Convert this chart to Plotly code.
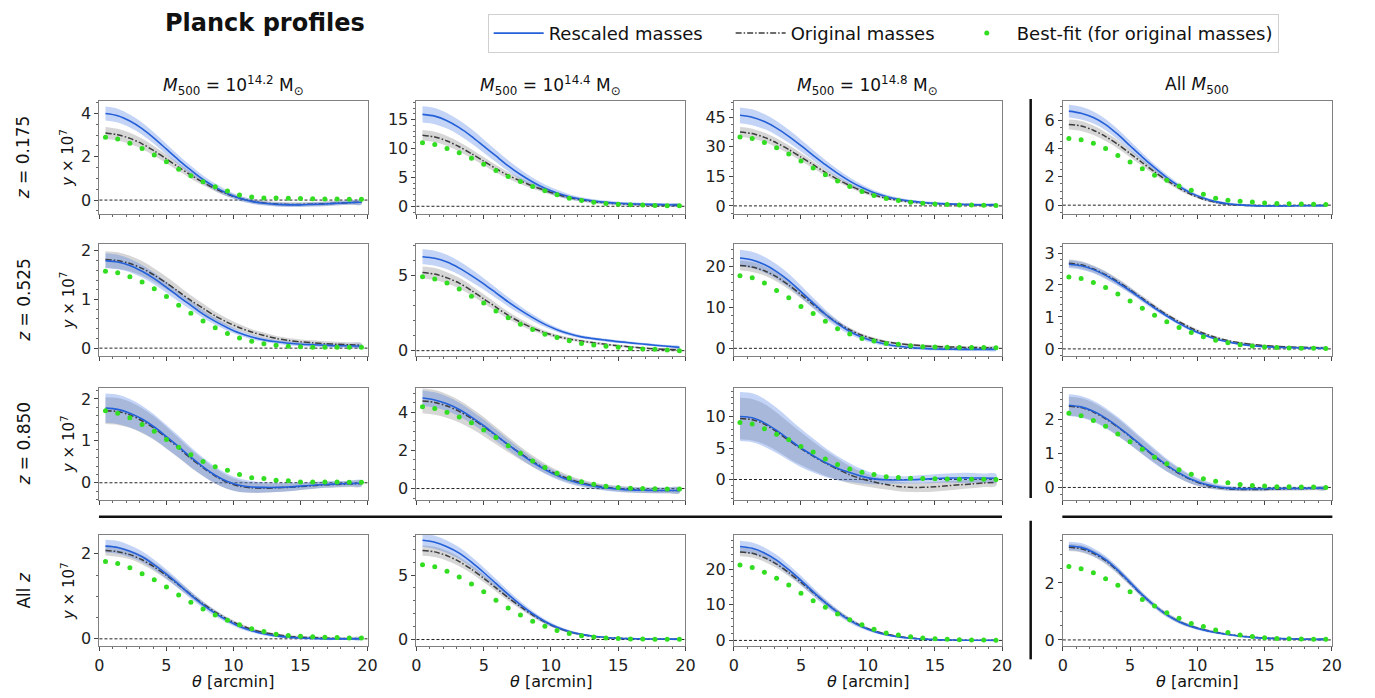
import plotly.graph_objects as go
from plotly.subplots import make_subplots

# ---------------- data ----------------
theta = [0.45, 1.36, 2.27, 3.18, 4.09, 5.0, 5.91, 6.82, 7.73, 8.64, 9.55,
         10.45, 11.36, 12.27, 13.18, 14.09, 15.0, 15.91, 16.82, 17.73, 18.64, 19.55]

col_titles = ["<i>M</i><sub>500</sub> = 10<sup>14.2</sup> M<sub>⊙</sub>",
              "<i>M</i><sub>500</sub> = 10<sup>14.4</sup> M<sub>⊙</sub>",
              "<i>M</i><sub>500</sub> = 10<sup>14.8</sup> M<sub>⊙</sub>",
              "All <i>M</i><sub>500</sub>"]
row_titles = ["<i>z</i> = 0.175", "<i>z</i> = 0.525", "<i>z</i> = 0.850", "All <i>z</i>"]
legend_names = ["Rescaled masses", "Original masses", "Best-fit (for original masses)"]
x_ticks = [0, 5, 10, 15, 20]

# row 1 (z = 0.175)
blue_r1c1 = [4.0, 3.9, 3.65, 3.3, 2.85, 2.35, 1.85, 1.38, 0.95, 0.6, 0.3, 0.08, -0.06, -0.15, -0.2, -0.22, -0.22, -0.2, -0.18, -0.15, -0.12, -0.1]
blue_err_r1c1 = [0.32, 0.32, 0.3, 0.28, 0.26, 0.24, 0.22, 0.2, 0.18, 0.16, 0.14, 0.12, 0.11, 0.1, 0.1, 0.1, 0.1, 0.1, 0.1, 0.1, 0.1, 0.1]
gray_r1c1 = [3.1, 3.02, 2.85, 2.6, 2.27, 1.9, 1.52, 1.15, 0.82, 0.52, 0.27, 0.08, -0.05, -0.13, -0.18, -0.2, -0.2, -0.19, -0.17, -0.14, -0.12, -0.1]
gray_err_r1c1 = [0.28, 0.27, 0.26, 0.24, 0.22, 0.2, 0.18, 0.16, 0.14, 0.12, 0.11, 0.1, 0.1, 0.1, 0.1, 0.1, 0.1, 0.1, 0.1, 0.1, 0.1, 0.1]
fit_r1c1 = [2.9, 2.82, 2.62, 2.38, 2.08, 1.77, 1.42, 1.12, 0.85, 0.62, 0.42, 0.24, 0.14, 0.1, 0.09, 0.08, 0.07, 0.06, 0.05, 0.05, 0.04, 0.04]

blue_r1c2 = [15.9, 15.6, 14.8, 13.6, 12.1, 10.4, 8.7, 7.0, 5.5, 4.2, 3.1, 2.3, 1.65, 1.2, 0.9, 0.68, 0.52, 0.42, 0.35, 0.3, 0.26, 0.22]
blue_err_r1c2 = [1.4, 1.4, 1.35, 1.3, 1.25, 1.15, 1.05, 0.95, 0.85, 0.75, 0.65, 0.55, 0.45, 0.38, 0.33, 0.3, 0.28, 0.26, 0.25, 0.25, 0.25, 0.25]
gray_r1c2 = [12.3, 12.0, 11.3, 10.3, 9.1, 7.8, 6.5, 5.35, 4.4, 3.5, 2.75, 2.05, 1.5, 1.1, 0.8, 0.58, 0.43, 0.33, 0.27, 0.22, 0.19, 0.17]
gray_err_r1c2 = [0.9, 0.9, 0.87, 0.83, 0.78, 0.72, 0.66, 0.6, 0.54, 0.48, 0.42, 0.37, 0.33, 0.3, 0.28, 0.26, 0.25, 0.25, 0.25, 0.25, 0.25, 0.25]
fit_r1c2 = [11.0, 10.7, 10.0, 9.26, 8.3, 7.26, 6.17, 5.14, 4.3, 3.4, 2.7, 2.0, 1.4, 1.0, 0.7, 0.5, 0.35, 0.25, 0.2, 0.15, 0.1, 0.1]

blue_r1c3 = [46.0, 45.0, 42.8, 39.5, 35.3, 30.6, 25.7, 20.9, 16.5, 12.6, 9.3, 6.7, 4.8, 3.4, 2.4, 1.75, 1.3, 1.0, 0.8, 0.65, 0.55, 0.5]
blue_err_r1c3 = [4.0, 4.0, 3.8, 3.6, 3.3, 3.0, 2.7, 2.4, 2.1, 1.8, 1.5, 1.2, 1.0, 0.85, 0.75, 0.7, 0.65, 0.6, 0.6, 0.6, 0.6, 0.6]
gray_r1c3 = [37.5, 36.7, 34.8, 32.0, 28.6, 24.8, 20.9, 17.0, 13.5, 10.3, 7.6, 5.5, 3.9, 2.8, 2.0, 1.45, 1.1, 0.85, 0.7, 0.6, 0.5, 0.45]
gray_err_r1c3 = [2.5, 2.5, 2.4, 2.3, 2.15, 2.0, 1.8, 1.6, 1.4, 1.2, 1.0, 0.85, 0.75, 0.65, 0.6, 0.55, 0.5, 0.5, 0.5, 0.5, 0.5, 0.5]
fit_r1c3 = [35.0, 34.2, 32.2, 29.5, 26.3, 22.8, 19.2, 15.8, 12.6, 9.8, 7.3, 5.3, 3.8, 2.7, 1.9, 1.3, 0.9, 0.65, 0.5, 0.4, 0.3, 0.25]

blue_r1c4 = [6.65, 6.5, 6.2, 5.7, 5.0, 4.2, 3.4, 2.65, 1.95, 1.35, 0.85, 0.5, 0.25, 0.1, 0.02, -0.03, -0.05, -0.05, -0.05, -0.04, -0.03, -0.03]
blue_err_r1c4 = [0.45, 0.45, 0.43, 0.4, 0.37, 0.33, 0.29, 0.25, 0.21, 0.17, 0.14, 0.11, 0.09, 0.08, 0.07, 0.06, 0.06, 0.06, 0.06, 0.06, 0.06, 0.06]
gray_r1c4 = [5.7, 5.6, 5.3, 4.85, 4.3, 3.65, 3.0, 2.35, 1.75, 1.2, 0.75, 0.42, 0.2, 0.07, 0.0, -0.03, -0.04, -0.04, -0.04, -0.03, -0.03, -0.02]
gray_err_r1c4 = [0.35, 0.35, 0.33, 0.31, 0.29, 0.26, 0.23, 0.2, 0.17, 0.14, 0.11, 0.09, 0.08, 0.07, 0.06, 0.06, 0.06, 0.06, 0.06, 0.06, 0.06, 0.06]
fit_r1c4 = [4.72, 4.62, 4.37, 4.01, 3.52, 3.05, 2.58, 2.11, 1.76, 1.36, 1.06, 0.77, 0.49, 0.35, 0.28, 0.22, 0.16, 0.12, 0.1, 0.08, 0.06, 0.04]

# row 2 (z = 0.525)
blue_r2c1 = [1.8, 1.77, 1.7, 1.58, 1.43, 1.25, 1.06, 0.88, 0.7, 0.55, 0.42, 0.31, 0.23, 0.17, 0.13, 0.1, 0.08, 0.07, 0.06, 0.05, 0.05, 0.04]
blue_err_r2c1 = [0.15, 0.15, 0.14, 0.13, 0.12, 0.11, 0.1, 0.09, 0.08, 0.07, 0.06, 0.05, 0.05, 0.04, 0.04, 0.04, 0.04, 0.04, 0.04, 0.04, 0.04, 0.04]
gray_r2c1 = [1.82, 1.8, 1.74, 1.64, 1.5, 1.34, 1.16, 0.98, 0.82, 0.66, 0.53, 0.42, 0.33, 0.26, 0.2, 0.16, 0.13, 0.11, 0.09, 0.08, 0.07, 0.06]
gray_err_r2c1 = [0.17, 0.17, 0.16, 0.15, 0.14, 0.13, 0.12, 0.11, 0.1, 0.09, 0.08, 0.07, 0.06, 0.06, 0.05, 0.05, 0.05, 0.05, 0.05, 0.05, 0.05, 0.05]
fit_r2c1 = [1.58, 1.55, 1.47, 1.36, 1.22, 1.06, 0.88, 0.72, 0.56, 0.42, 0.3, 0.21, 0.14, 0.09, 0.06, 0.04, 0.03, 0.02, 0.02, 0.02, 0.02, 0.02]

blue_r2c2 = [6.25, 6.15, 5.9, 5.5, 5.0, 4.45, 3.85, 3.25, 2.7, 2.2, 1.75, 1.4, 1.12, 0.92, 0.8, 0.7, 0.6, 0.52, 0.44, 0.36, 0.29, 0.22]
blue_err_r2c2 = [0.5, 0.5, 0.48, 0.45, 0.42, 0.38, 0.34, 0.3, 0.26, 0.22, 0.18, 0.15, 0.13, 0.11, 0.1, 0.1, 0.09, 0.09, 0.08, 0.08, 0.08, 0.08]
gray_r2c2 = [5.2, 5.1, 4.85, 4.5, 4.0, 3.45, 2.9, 2.35, 1.9, 1.5, 1.2, 0.95, 0.78, 0.64, 0.52, 0.42, 0.33, 0.25, 0.18, 0.12, 0.08, 0.05]
gray_err_r2c2 = [0.4, 0.4, 0.38, 0.36, 0.33, 0.3, 0.27, 0.24, 0.21, 0.18, 0.15, 0.13, 0.11, 0.1, 0.09, 0.08, 0.08, 0.07, 0.07, 0.07, 0.07, 0.07]
fit_r2c2 = [4.93, 4.78, 4.5, 4.1, 3.63, 3.17, 2.64, 2.2, 1.76, 1.41, 1.1, 0.88, 0.66, 0.48, 0.37, 0.3, 0.22, 0.15, 0.11, 0.09, 0.04, 0.0]

blue_r2c3 = [22.0, 21.5, 20.4, 18.7, 16.5, 13.8, 11.0, 8.3, 6.0, 4.1, 2.7, 1.7, 1.0, 0.5, 0.2, 0.0, -0.15, -0.2, -0.25, -0.25, -0.25, -0.25]
blue_err_r2c3 = [2.0, 2.0, 1.9, 1.8, 1.65, 1.5, 1.3, 1.1, 0.9, 0.75, 0.6, 0.5, 0.45, 0.4, 0.4, 0.4, 0.4, 0.4, 0.4, 0.4, 0.4, 0.4]
gray_r2c3 = [20.2, 19.8, 18.9, 17.4, 15.4, 13.1, 10.7, 8.3, 6.2, 4.5, 3.2, 2.25, 1.6, 1.15, 0.85, 0.62, 0.46, 0.35, 0.26, 0.2, 0.15, 0.1]
gray_err_r2c3 = [1.2, 1.2, 1.15, 1.1, 1.0, 0.9, 0.8, 0.7, 0.6, 0.5, 0.42, 0.36, 0.32, 0.3, 0.3, 0.3, 0.3, 0.3, 0.3, 0.3, 0.3, 0.3]
fit_r2c3 = [17.7, 17.2, 15.9, 14.1, 12.3, 10.2, 8.5, 6.6, 4.8, 3.5, 2.4, 1.8, 1.2, 0.97, 0.65, 0.4, 0.3, 0.25, 0.22, 0.2, 0.18, 0.16]

blue_r2c4 = [2.65, 2.6, 2.48, 2.3, 2.07, 1.82, 1.55, 1.28, 1.03, 0.8, 0.6, 0.44, 0.31, 0.22, 0.15, 0.1, 0.07, 0.05, 0.04, 0.03, 0.02, 0.02]
blue_err_r2c4 = [0.12, 0.12, 0.11, 0.11, 0.1, 0.09, 0.08, 0.07, 0.06, 0.05, 0.05, 0.04, 0.04, 0.03, 0.03, 0.03, 0.03, 0.03, 0.03, 0.03, 0.03, 0.03]
gray_r2c4 = [2.68, 2.63, 2.5, 2.32, 2.1, 1.85, 1.58, 1.32, 1.07, 0.85, 0.65, 0.49, 0.36, 0.26, 0.19, 0.14, 0.1, 0.08, 0.06, 0.05, 0.04, 0.03]
gray_err_r2c4 = [0.12, 0.12, 0.11, 0.11, 0.1, 0.09, 0.08, 0.07, 0.06, 0.05, 0.05, 0.04, 0.04, 0.03, 0.03, 0.03, 0.03, 0.03, 0.03, 0.03, 0.03, 0.03]
fit_r2c4 = [2.25, 2.2, 2.08, 1.92, 1.72, 1.5, 1.27, 1.05, 0.85, 0.67, 0.51, 0.38, 0.27, 0.19, 0.13, 0.09, 0.06, 0.04, 0.03, 0.02, 0.02, 0.01]

# row 3 (z = 0.850)
blue_r3c1 = [1.78, 1.75, 1.66, 1.52, 1.33, 1.1, 0.86, 0.61, 0.38, 0.18, 0.03, -0.06, -0.1, -0.11, -0.11, -0.1, -0.08, -0.06, -0.04, -0.03, -0.02, -0.01]
blue_err_r3c1 = [0.35, 0.35, 0.34, 0.32, 0.3, 0.28, 0.26, 0.24, 0.22, 0.2, 0.18, 0.16, 0.14, 0.12, 0.11, 0.1, 0.09, 0.08, 0.08, 0.07, 0.07, 0.07]
gray_r3c1 = [1.72, 1.7, 1.62, 1.48, 1.3, 1.07, 0.83, 0.58, 0.36, 0.16, 0.01, -0.08, -0.12, -0.13, -0.12, -0.11, -0.09, -0.07, -0.05, -0.04, -0.03, -0.02]
gray_err_r3c1 = [0.32, 0.32, 0.31, 0.3, 0.28, 0.26, 0.24, 0.22, 0.2, 0.18, 0.16, 0.14, 0.12, 0.11, 0.1, 0.09, 0.08, 0.08, 0.07, 0.07, 0.07, 0.07]
fit_r3c1 = [1.72, 1.66, 1.55, 1.39, 1.23, 1.03, 0.85, 0.67, 0.51, 0.38, 0.3, 0.2, 0.12, 0.1, 0.06, 0.05, 0.02, 0.02, 0.02, 0.02, 0.01, 0.01]

blue_r3c2 = [4.75, 4.65, 4.45, 4.15, 3.75, 3.3, 2.8, 2.3, 1.82, 1.38, 1.0, 0.68, 0.43, 0.25, 0.12, 0.03, -0.03, -0.07, -0.09, -0.1, -0.1, -0.1]
blue_err_r3c2 = [0.4, 0.4, 0.38, 0.36, 0.34, 0.32, 0.3, 0.28, 0.26, 0.24, 0.22, 0.2, 0.18, 0.16, 0.15, 0.15, 0.15, 0.15, 0.15, 0.15, 0.15, 0.15]
gray_r3c2 = [4.6, 4.52, 4.33, 4.05, 3.68, 3.25, 2.78, 2.3, 1.85, 1.43, 1.06, 0.75, 0.5, 0.3, 0.16, 0.06, -0.01, -0.05, -0.08, -0.1, -0.1, -0.1]
gray_err_r3c2 = [0.65, 0.65, 0.62, 0.58, 0.54, 0.5, 0.45, 0.4, 0.35, 0.3, 0.26, 0.22, 0.19, 0.17, 0.16, 0.15, 0.15, 0.15, 0.15, 0.15, 0.15, 0.15]
fit_r3c2 = [4.3, 4.2, 4.0, 3.75, 3.45, 3.08, 2.68, 2.25, 1.85, 1.45, 1.1, 0.8, 0.55, 0.36, 0.22, 0.12, 0.06, 0.02, 0.0, -0.01, -0.02, -0.02]

blue_r3c3 = [10.0, 9.8, 9.0, 7.8, 6.4, 5.0, 3.8, 2.7, 1.8, 1.1, 0.5, 0.1, -0.05, -0.08, -0.05, 0.05, 0.15, 0.22, 0.25, 0.25, 0.22, 0.2]
blue_err_r3c3 = [3.9, 3.9, 3.8, 3.6, 3.35, 3.05, 2.7, 2.3, 1.9, 1.5, 1.15, 0.85, 0.65, 0.6, 0.6, 0.65, 0.7, 0.75, 0.8, 0.8, 0.75, 0.7]
gray_r3c3 = [9.7, 9.5, 8.8, 7.6, 6.2, 4.9, 3.7, 2.6, 1.65, 0.75, 0.1, -0.4, -0.8, -1.1, -1.25, -1.25, -1.15, -1.0, -0.85, -0.7, -0.55, -0.45]
gray_err_r3c3 = [3.3, 3.3, 3.2, 3.05, 2.85, 2.6, 2.3, 2.0, 1.7, 1.4, 1.1, 0.9, 0.8, 0.75, 0.75, 0.75, 0.75, 0.75, 0.7, 0.7, 0.65, 0.6]
fit_r3c3 = [9.05, 8.8, 8.05, 7.2, 6.3, 5.26, 4.37, 3.26, 2.37, 1.68, 1.16, 0.79, 0.45, 0.3, 0.2, 0.15, 0.1, 0.08, 0.06, 0.05, 0.04, 0.02]

blue_r3c4 = [2.43, 2.38, 2.25, 2.05, 1.8, 1.52, 1.22, 0.93, 0.66, 0.43, 0.24, 0.11, 0.03, -0.02, -0.04, -0.04, -0.04, -0.03, -0.03, -0.03, -0.02, -0.02]
blue_err_r3c4 = [0.32, 0.32, 0.31, 0.3, 0.28, 0.26, 0.24, 0.22, 0.19, 0.16, 0.13, 0.1, 0.08, 0.07, 0.06, 0.06, 0.05, 0.05, 0.05, 0.05, 0.05, 0.05]
gray_r3c4 = [2.4, 2.36, 2.23, 2.03, 1.78, 1.5, 1.2, 0.91, 0.64, 0.41, 0.22, 0.09, 0.01, -0.04, -0.06, -0.06, -0.06, -0.05, -0.04, -0.04, -0.03, -0.03]
gray_err_r3c4 = [0.28, 0.28, 0.27, 0.26, 0.25, 0.23, 0.21, 0.19, 0.17, 0.14, 0.12, 0.09, 0.07, 0.06, 0.05, 0.05, 0.05, 0.05, 0.05, 0.05, 0.05, 0.05]
fit_r3c4 = [2.19, 2.12, 1.98, 1.81, 1.58, 1.35, 1.13, 0.89, 0.7, 0.52, 0.39, 0.26, 0.18, 0.14, 0.09, 0.06, 0.04, 0.02, 0.02, 0.01, 0.01, 0.0]

# row 4 (all z)
blue_r4c1 = [2.18, 2.15, 2.06, 1.93, 1.74, 1.52, 1.28, 1.03, 0.8, 0.6, 0.43, 0.29, 0.19, 0.12, 0.07, 0.04, 0.02, 0.01, 0.0, 0.0, 0.0, 0.0]
blue_err_r4c1 = [0.15, 0.15, 0.14, 0.13, 0.12, 0.11, 0.1, 0.09, 0.08, 0.07, 0.06, 0.05, 0.04, 0.04, 0.03, 0.03, 0.03, 0.03, 0.03, 0.03, 0.03, 0.03]
gray_r4c1 = [2.08, 2.05, 1.98, 1.86, 1.69, 1.49, 1.27, 1.04, 0.82, 0.63, 0.46, 0.33, 0.22, 0.15, 0.1, 0.06, 0.04, 0.03, 0.02, 0.01, 0.01, 0.01]
gray_err_r4c1 = [0.12, 0.12, 0.11, 0.11, 0.1, 0.09, 0.08, 0.07, 0.06, 0.05, 0.05, 0.04, 0.04, 0.03, 0.03, 0.03, 0.03, 0.03, 0.03, 0.03, 0.03, 0.03]
fit_r4c1 = [1.82, 1.77, 1.67, 1.53, 1.39, 1.22, 1.03, 0.86, 0.7, 0.56, 0.44, 0.33, 0.24, 0.17, 0.11, 0.08, 0.06, 0.05, 0.04, 0.03, 0.02, 0.02]

blue_r4c2 = [7.7, 7.55, 7.2, 6.7, 6.0, 5.2, 4.35, 3.5, 2.7, 2.0, 1.4, 0.95, 0.62, 0.4, 0.25, 0.16, 0.1, 0.07, 0.05, 0.04, 0.03, 0.03]
blue_err_r4c2 = [0.5, 0.5, 0.48, 0.45, 0.42, 0.38, 0.34, 0.3, 0.26, 0.22, 0.18, 0.14, 0.11, 0.09, 0.07, 0.06, 0.05, 0.05, 0.05, 0.05, 0.05, 0.05]
gray_r4c2 = [6.9, 6.8, 6.5, 6.05, 5.45, 4.75, 4.0, 3.25, 2.55, 1.9, 1.35, 0.92, 0.6, 0.38, 0.24, 0.15, 0.1, 0.07, 0.05, 0.04, 0.03, 0.03]
gray_err_r4c2 = [0.4, 0.4, 0.38, 0.36, 0.33, 0.3, 0.27, 0.24, 0.21, 0.18, 0.15, 0.12, 0.1, 0.08, 0.07, 0.06, 0.05, 0.05, 0.05, 0.05, 0.05, 0.05]
fit_r4c2 = [5.8, 5.65, 5.3, 4.85, 4.3, 3.7, 3.05, 2.45, 1.9, 1.42, 1.02, 0.7, 0.46, 0.3, 0.19, 0.12, 0.08, 0.05, 0.04, 0.03, 0.02, 0.02]

blue_r4c3 = [26.3, 25.8, 24.5, 22.5, 19.8, 16.8, 13.6, 10.6, 7.9, 5.6, 3.8, 2.5, 1.6, 1.0, 0.6, 0.35, 0.2, 0.12, 0.08, 0.05, 0.03, 0.02]
blue_err_r4c3 = [1.6, 1.6, 1.55, 1.5, 1.4, 1.3, 1.15, 1.0, 0.85, 0.7, 0.55, 0.45, 0.35, 0.28, 0.22, 0.18, 0.15, 0.12, 0.1, 0.1, 0.1, 0.1]
gray_r4c3 = [24.8, 24.4, 23.2, 21.4, 19.0, 16.3, 13.4, 10.6, 8.0, 5.8, 4.0, 2.7, 1.75, 1.1, 0.7, 0.42, 0.25, 0.15, 0.1, 0.07, 0.05, 0.03]
gray_err_r4c3 = [1.2, 1.2, 1.15, 1.1, 1.05, 0.95, 0.85, 0.75, 0.65, 0.55, 0.45, 0.35, 0.28, 0.22, 0.18, 0.15, 0.12, 0.1, 0.1, 0.1, 0.1, 0.1]
fit_r4c3 = [21.1, 20.4, 19.1, 17.4, 15.5, 13.2, 11.1, 9.3, 7.4, 5.8, 4.4, 3.1, 2.1, 1.5, 1.05, 0.7, 0.45, 0.3, 0.2, 0.15, 0.1, 0.05]

blue_r4c4 = [3.3, 3.25, 3.08, 2.82, 2.45, 2.02, 1.58, 1.2, 0.88, 0.64, 0.47, 0.35, 0.26, 0.19, 0.13, 0.09, 0.06, 0.05, 0.04, 0.03, 0.02, 0.02]
blue_err_r4c4 = [0.15, 0.15, 0.14, 0.13, 0.12, 0.11, 0.1, 0.09, 0.08, 0.07, 0.06, 0.05, 0.04, 0.04, 0.03, 0.03, 0.03, 0.03, 0.03, 0.03, 0.03, 0.03]
gray_r4c4 = [3.25, 3.2, 3.04, 2.78, 2.42, 2.0, 1.57, 1.2, 0.89, 0.65, 0.48, 0.36, 0.27, 0.2, 0.14, 0.1, 0.07, 0.05, 0.04, 0.03, 0.02, 0.02]
gray_err_r4c4 = [0.13, 0.13, 0.12, 0.12, 0.11, 0.1, 0.09, 0.08, 0.07, 0.06, 0.05, 0.04, 0.04, 0.03, 0.03, 0.03, 0.03, 0.03, 0.03, 0.03, 0.03, 0.03]
fit_r4c4 = [2.58, 2.5, 2.36, 2.15, 1.92, 1.69, 1.42, 1.19, 0.95, 0.76, 0.58, 0.47, 0.35, 0.26, 0.17, 0.12, 0.08, 0.05, 0.04, 0.03, 0.02, 0.02]

# ---------------- layout settings ----------------
W, H = 1375, 698
FONT = "DejaVu Sans"
col_px = [(95.5, 366.5), (416.0, 688.0), (737.0, 1008.0), (1069.5, 1341.5)]
row_px = [(98.5, 213.5), (243.5, 356.5), (388.5, 502.0), (537.5, 650.0)]
y_ranges = [[(-0.66, 4.6), (-1.4, 18.3), (-4.3, 53.5), (-0.65, 7.4)],
            [(-0.16, 2.14), (-0.35, 7.1), (-1.85, 25.4), (-0.22, 3.28)],
            [(-0.41, 2.27), (-0.6, 5.3), (-3.25, 14.6), (-0.37, 2.95)],
            [(-0.18, 2.44), (-0.54, 8.1), (-1.7, 29.5), (-0.23, 3.68)]]
y_dticks = [[2, 5, 15, 2], [1, 5, 10, 1], [1, 2, 5, 1], [2, 5, 10, 2]]
y_minor = [[0.5, 1, 3.75, 0.5], [0.2, 1, 2, 0.2], [0.2, 0.5, 1, 0.2], [0.5, 1, 2, 0.5]]

BLUE = "#2460d8"
BLUE_FILL = "rgba(70,120,230,0.32)"
GRAY = "#3c3c3c"
GRAY_FILL = "rgba(120,120,120,0.30)"
GREEN = "#33dd22"
NB = "\u00a0"  # spacing inside legend entries

g = globals()
fig = make_subplots(rows=4, cols=4)

for r in range(1, 5):
    for c in range(1, 5):
        key = f"r{r}c{c}"
        blue = g["blue_" + key]
        berr = g["blue_err_" + key]
        gray = g["gray_" + key]
        gerr = g["gray_err_" + key]
        fit = g["fit_" + key]
        first = (r == 1 and c == 1)
        # bands
        fig.add_trace(go.Scatter(
            x=theta + theta[::-1],
            y=[v + e for v, e in zip(gray, gerr)] + [v - e for v, e in zip(gray[::-1], gerr[::-1])],
            fill="toself", fillcolor=GRAY_FILL, line=dict(width=0), mode="lines",
            line_shape="spline", hoverinfo="skip", showlegend=False), row=r, col=c)
        fig.add_trace(go.Scatter(
            x=theta + theta[::-1],
            y=[v + e for v, e in zip(blue, berr)] + [v - e for v, e in zip(blue[::-1], berr[::-1])],
            fill="toself", fillcolor=BLUE_FILL, line=dict(width=0), mode="lines",
            line_shape="spline", hoverinfo="skip", showlegend=False), row=r, col=c)
        fig.add_trace(go.Scatter(
            x=theta, y=gray, mode="lines", name=legend_names[1] + NB * 3,
            line=dict(color=GRAY, width=1.5, dash="6px,2px,1.5px,2px", shape="spline", smoothing=0.8),
            showlegend=first, legendrank=2), row=r, col=c)
        fig.add_trace(go.Scatter(
            x=theta, y=blue, mode="lines", name=legend_names[0] + NB * 4,
            line=dict(color=BLUE, width=1.6, shape="spline", smoothing=0.8),
            showlegend=first, legendrank=1), row=r, col=c)
        fig.add_trace(go.Scatter(
            x=theta, y=fit, mode="markers", name=legend_names[2],
            marker=dict(color=GREEN, size=5),
            showlegend=first, legendrank=3), row=r, col=c)

        # axes
        x0, x1 = col_px[c - 1]
        ytop, ybot = row_px[r - 1]
        fig.update_xaxes(row=r, col=c, domain=[x0 / W, x1 / W], range=[0, 20],
                         tickvals=x_ticks, showticklabels=(r == 4),
                         ticks="outside", ticklen=4, tickcolor="#444", tickwidth=1,
                         minor=dict(ticks="outside", ticklen=2, dtick=1, tickcolor="#666"),
                         showline=True, linecolor="#808080", linewidth=1, mirror=True,
                         showgrid=False, zeroline=False,
                         tickfont=dict(family=FONT, size=16, color="#222"))
        lo, hi = y_ranges[r - 1][c - 1]
        fig.update_yaxes(row=r, col=c, domain=[1 - ybot / H, 1 - ytop / H], range=[lo, hi],
                         dtick=y_dticks[r - 1][c - 1], tick0=0,
                         ticks="outside", ticklen=4, tickcolor="#444", tickwidth=1,
                         minor=dict(ticks="outside", ticklen=2, dtick=y_minor[r - 1][c - 1], tickcolor="#666"),
                         showline=True, linecolor="#808080", linewidth=1, mirror=True,
                         showgrid=False, zeroline=False,
                         tickfont=dict(family=FONT, size=16, color="#222"))
        n = (r - 1) * 4 + c
        xs = "x" if n == 1 else f"x{n}"
        ys = "y" if n == 1 else f"y{n}"
        fig.add_shape(type="line", xref=f"{xs} domain", yref=ys, x0=0, x1=1, y0=0, y1=0,
                      line=dict(color="#222", width=1, dash="3px,2px"), layer="below")

annotations = []
annotations.append(dict(text="<b>Planck profiles</b>", x=263 / W, y=1 - 20 / H, xref="paper", yref="paper",
                        showarrow=False, font=dict(family=FONT, size=24, color="#111"),
                        xanchor="center", yanchor="middle"))
for c in range(4):
    x0, x1 = col_px[c]
    annotations.append(dict(text=col_titles[c], x=(x0 + x1) / 2 / W, y=1 - 83 / H,
                            xref="paper", yref="paper", showarrow=False,
                            font=dict(family=FONT, size=17, color="#111"),
                            xanchor="center", yanchor="middle"))
    annotations.append(dict(text="<i>θ</i> [arcmin]", x=(x0 + x1) / 2 / W, y=1 - 685 / H,
                            xref="paper", yref="paper", showarrow=False,
                            font=dict(family=FONT, size=16, color="#111"),
                            xanchor="center", yanchor="middle"))
for r in range(4):
    ytop, ybot = row_px[r]
    yc = 1 - (ytop + ybot) / 2 / H
    annotations.append(dict(text=row_titles[r], x=19 / W, y=yc, xref="paper", yref="paper",
                            showarrow=False, textangle=-90,
                            font=dict(family=FONT, size=17, color="#111"),
                            xanchor="center", yanchor="middle"))
    annotations.append(dict(text="<i>y</i> × 10<sup>7</sup>", x=63 / W, y=yc, xref="paper", yref="paper",
                            showarrow=False, textangle=-90,
                            font=dict(family=FONT, size=15, color="#111"),
                            xanchor="center", yanchor="middle"))

# separator lines
sep = [((95 / W, 1 - 519 / H), (1008 / W, 1 - 519 / H)),
       ((1069 / W, 1 - 519 / H), (1342 / W, 1 - 519 / H)),
       ((1037 / W, 1 - 97 / H), (1037 / W, 1 - 500 / H)),
       ((1037 / W, 1 - 523 / H), (1037 / W, 1 - 663 / H))]
for (a, b) in sep:
    fig.add_shape(type="line", xref="paper", yref="paper", x0=a[0], y0=a[1], x1=b[0], y1=b[1],
                  line=dict(color="#111", width=2.5))

fig.update_layout(
    width=W, height=H, margin=dict(l=0, r=0, t=0, b=0),
    paper_bgcolor="white", plot_bgcolor="white",
    font=dict(family=FONT, color="#111"),
    annotations=annotations,
    legend=dict(orientation="h", x=488 / W, y=1 - 11 / H, xanchor="left", yanchor="top",
                bordercolor="#d0d0d0", borderwidth=1, bgcolor="white",
                font=dict(family=FONT, size=18, color="#111"),
                itemwidth=50, traceorder="normal"),
    showlegend=True,
)

fig.write_html("out.html")
